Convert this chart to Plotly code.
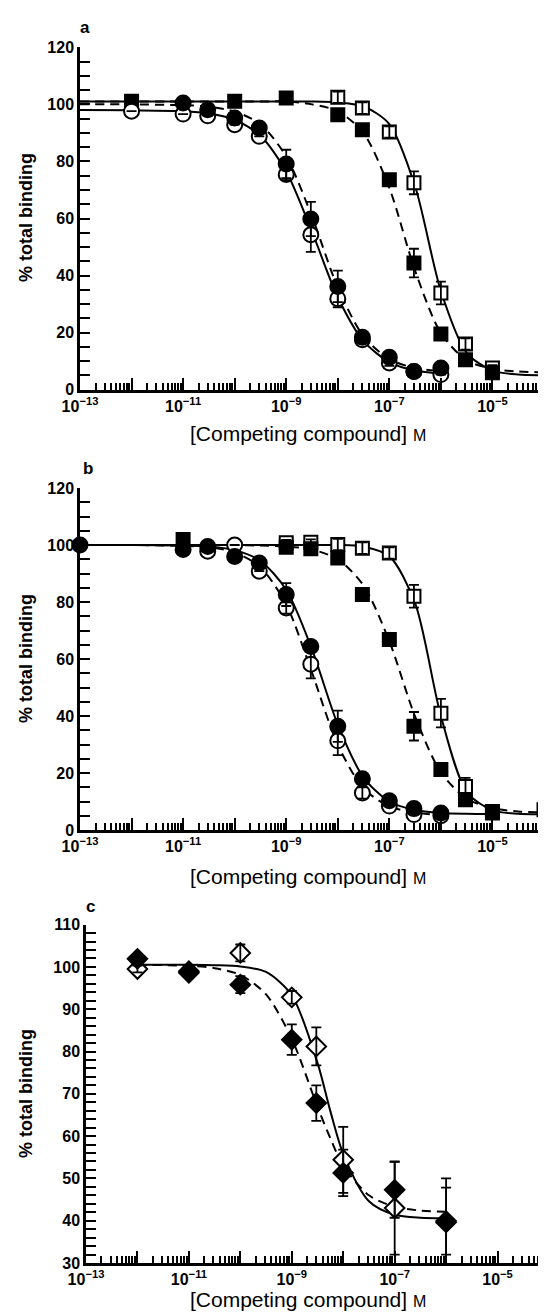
import plotly.graph_objects as go

# ---------------- data ----------------
# Panel a
a_oc_x = [1e-12, 1e-11, 3e-11, 1e-10, 3e-10, 1e-9, 3e-9, 1e-8, 3e-8, 1e-7, 3e-7, 1e-6]
a_oc_y = [97.6, 96.6, 96.0, 92.9, 88.8, 75.4, 54.3, 31.9, 17.5, 9.4, 6.4, 5.3]
a_oc_e = [0, 0, 0, 0, 0, 2, 6, 3, 1, 1, 0, 0]
a_fc_x = [1e-11, 3e-11, 1e-10, 3e-10, 1e-9, 3e-9, 1e-8, 3e-8, 1e-7, 3e-7, 1e-6]
a_fc_y = [100.5, 98.1, 95.2, 91.7, 79.1, 59.8, 36.2, 18.4, 11.4, 6.4, 7.6]
a_fc_e = [0, 0, 0, 0, 5, 6, 5.5, 0, 0, 0, 0]
a_os_x = [1e-8, 3e-8, 1e-7, 3e-7, 1e-6, 3e-6, 1e-5]
a_os_y = [102.5, 98.7, 90.3, 72.5, 33.9, 16.0, 7.6]
a_os_e = [2, 2, 2, 4, 4, 2, 1]
a_fs_x = [1e-12, 1e-10, 1e-9, 1e-8, 3e-8, 1e-7, 3e-7, 1e-6, 3e-6, 1e-5, 1e-4]
a_fs_y = [101.1, 101.1, 102.2, 96.4, 91.1, 73.6, 44.4, 19.5, 10.5, 5.9, 6.4]
a_fs_e = [0, 0, 0, 0, 0, 2, 5, 0, 0, 0, 0]

# fitted curves of panel a (log10 concentration knots, % binding)
a_curve_lx = [-13, -12, -11, -10.5, -10, -9.5, -9, -8.5, -8, -7.5, -7, -6.5, -6, -5.5, -5, -4.5, -4]
a_oc_fit = [98.0, 97.9, 97.6, 96.8, 94.6, 89.0, 76.5, 55.4, 32.4, 17.0, 9.7, 6.7, 5.6]
a_fc_fit = [100.0, 100.0, 99.7, 99.2, 97.5, 93.0, 81.7, 60.7, 35.8, 18.7, 10.7, 7.6, 6.6]
a_os_fit = [101.0, 101.0, 101.0, 101.0, 101.0, 101.0, 101.0, 101.0, 100.7, 99.3, 93.1, 71.3, 34.6, 12.9, 6.7, 5.3, 5.1]
a_fs_fit = [101.0, 101.0, 101.0, 101.0, 101.0, 101.0, 101.0, 100.0, 97.6, 89.9, 70.7, 41.7, 19.8, 10.3, 7.3, 6.4, 6.1]

# Panel b
b_oc_x = [3e-11, 1e-10, 3e-10, 1e-9, 3e-9, 1e-8, 3e-8, 1e-7, 3e-7, 1e-6]
b_oc_y = [97.8, 100.0, 90.8, 77.9, 58.2, 31.3, 13.0, 8.4, 5.4, 5.0]
b_oc_e = [0, 0, 0, 2, 5, 5, 2, 0, 0, 0]
b_fc_x = [1e-13, 1e-11, 3e-11, 1e-10, 3e-10, 1e-9, 3e-9, 1e-8, 3e-8, 1e-7, 3e-7, 1e-6]
b_fc_y = [100.0, 98.4, 99.5, 96.0, 93.7, 82.6, 64.4, 36.4, 18.0, 10.3, 7.5, 6.0]
b_fc_e = [0, 0, 0, 0, 0, 4, 0, 5.5, 0, 0, 0, 0]
b_os_x = [1e-9, 3e-9, 1e-8, 3e-8, 1e-7, 3e-7, 1e-6, 3e-6, 1e-5]
b_os_y = [100.8, 101.0, 100.2, 98.9, 97.2, 82.0, 41.0, 15.3, 6.0]
b_os_e = [1, 1, 2, 2, 2, 4, 5, 3, 0]
b_fs_x = [1e-11, 1e-9, 3e-9, 1e-8, 3e-8, 1e-7, 3e-7, 1e-6, 3e-6, 1e-5, 1e-4]
b_fs_y = [101.9, 99.2, 98.7, 95.4, 82.6, 66.8, 36.4, 21.2, 10.6, 6.5, 7.1]
b_fs_e = [0, 0, 0, 0, 2, 2, 5, 0, 0, 0, 0]

b_curve_lx = [-13, -12, -11, -10.5, -10, -9.5, -9, -8.5, -8, -7.5, -7, -6.5, -6, -5.5, -5, -4.5, -4]
b_oc_fit = [100.0, 100.0, 99.7, 99.2, 97.4, 92.2, 79.1, 55.2, 29.9, 14.6, 8.3, 6.1, 5.3]
b_fc_fit = [100.0, 100.0, 99.8, 99.4, 98.2, 94.4, 84.3, 63.4, 37.0, 18.4, 10.0, 7.0, 6.0, 5.7, 5.6]
b_os_fit = [100.0, 100.0, 100.0, 100.0, 100.0, 100.0, 100.0, 100.0, 100.0, 99.4, 96.1, 79.6, 40.0, 13.4, 6.9, 5.7, 5.5]
b_fs_fit = [100.0, 100.0, 100.0, 100.0, 100.0, 99.8, 99.5, 98.4, 95.0, 85.8, 66.2, 39.8, 20.2, 11.0, 7.7, 6.5, 6.2]

# Panel c
c_od_x = [1e-12, 1e-11, 1e-10, 1e-9, 3e-9, 1e-8, 1e-7, 1e-6]
c_od_y = [99.5, 99.0, 103.3, 92.8, 81.2, 54.4, 43.0, 39.9]
c_od_e = [0.8, 0.8, 2, 1.5, 4.5, 7.8, 11, 7.9]
c_fd_x = [1e-12, 1e-11, 1e-10, 1e-9, 3e-9, 1e-8, 1e-7, 1e-6]
c_fd_y = [101.9, 98.6, 95.8, 82.8, 67.8, 51.3, 47.3, 39.6]
c_fd_e = [0.8, 0.8, 2, 3.6, 4.2, 5.5, 6.6, 10.4]

c_curve_lx = [-12, -11, -10.5, -10, -9.5, -9, -8.5, -8.25, -8, -7.5, -7, -6.5, -6]
c_od_fit = [100.5, 100.5, 100.4, 100.1, 98.8, 93.3, 77.3, 65.9, 55.8, 44.6, 41.4, 40.7, 40.6]
c_fd_fit = [100.5, 100.25, 99.7, 98.1, 93.5, 83.0, 66.9, 59.5, 53.0, 46.0, 43.3, 42.4, 42.1]

decade_exps = list(range(-13, -3))
label_exps = [-13, -11, -9, -7, -5]
minor_mults = [2, 3, 4, 5, 6, 7, 8, 9]

# ---------------- figure ----------------
W, H = 546, 1312
fig = go.Figure()

FONT = "Liberation Sans, Arial, sans-serif"
DASH = "9px,6px"


def px_x(p):
    return p / W


def px_y(p):
    return 1 - p / H


def add_curve(lx, vals, ax, dash):
    xs = [10 ** v for v in lx[:len(vals)]]
    fig.add_trace(go.Scatter(x=xs, y=vals, mode="lines", xaxis=ax[0], yaxis=ax[1],
                             line=dict(color="black", width=2, dash=dash, shape="spline", smoothing=0.8),
                             showlegend=False, hoverinfo="skip"))


def add_markers(xs, ys, ax, symbol, filled, size):
    fig.add_trace(go.Scatter(x=xs, y=ys, mode="markers", xaxis=ax[0], yaxis=ax[1], cliponaxis=False,
                             marker=dict(symbol=symbol, size=size,
                                         color="black" if filled else "white",
                                         line=dict(color="black", width=2)),
                             showlegend=False))


def add_err(xs, ys, es, ax):
    fig.add_trace(go.Scatter(x=xs, y=ys, mode="markers", xaxis=ax[0], yaxis=ax[1], cliponaxis=False,
                             marker=dict(size=1, color="rgba(0,0,0,0)"),
                             error_y=dict(type="data", array=es, visible=True, color="black",
                                          thickness=1.8, width=5),
                             showlegend=False, hoverinfo="skip"))


A = ("x", "y")
B = ("x2", "y2")
C = ("x3", "y3")

# panel a
add_curve(a_curve_lx, a_oc_fit, A, "solid")
add_curve(a_curve_lx, a_fc_fit, A, DASH)
add_curve(a_curve_lx, a_os_fit, A, "solid")
add_curve(a_curve_lx, a_fs_fit, A, DASH)
add_markers(a_os_x, a_os_y, A, "square", False, 13)
add_markers(a_fs_x, a_fs_y, A, "square", True, 13)
add_markers(a_oc_x, a_oc_y, A, "circle", False, 15)
add_markers(a_fc_x, a_fc_y, A, "circle", True, 15)
for xs, ys, es in [(a_oc_x, a_oc_y, a_oc_e), (a_fc_x, a_fc_y, a_fc_e),
                   (a_os_x, a_os_y, a_os_e), (a_fs_x, a_fs_y, a_fs_e)]:
    add_err(xs, ys, es, A)

# panel b
add_curve(b_curve_lx, b_oc_fit, B, DASH)
add_curve(b_curve_lx, b_fc_fit, B, "solid")
add_curve(b_curve_lx, b_os_fit, B, "solid")
add_curve(b_curve_lx, b_fs_fit, B, DASH)
add_markers(b_os_x, b_os_y, B, "square", False, 13)
add_markers(b_fs_x, b_fs_y, B, "square", True, 13)
add_markers(b_oc_x, b_oc_y, B, "circle", False, 15)
add_markers(b_fc_x, b_fc_y, B, "circle", True, 15)
for xs, ys, es in [(b_oc_x, b_oc_y, b_oc_e), (b_fc_x, b_fc_y, b_fc_e),
                   (b_os_x, b_os_y, b_os_e), (b_fs_x, b_fs_y, b_fs_e)]:
    add_err(xs, ys, es, B)

# panel c
add_curve(c_curve_lx, c_od_fit, C, "solid")
add_curve(c_curve_lx, c_fd_fit, C, DASH)
add_markers(c_od_x, c_od_y, C, "diamond", False, 15)
add_markers(c_fd_x, c_fd_y, C, "diamond", True, 15)
add_err(c_od_x, c_od_y, c_od_e, C)
add_err(c_fd_x, c_fd_y, c_fd_e, C)

label_vals = [10.0 ** e for e in label_exps]
label_text = ["10<sup>\u2212%d</sup>" % (-e) for e in label_exps]
plain_decades = [10.0 ** e for e in decade_exps if e not in label_exps]
minor_vals = [m * 10.0 ** e for e in decade_exps[:-1] for m in minor_mults]


def xaxis_cfg(p0, p1, r1, anchor):
    return dict(type="log", domain=[px_x(p0), px_x(p1)], range=[-13, r1], anchor=anchor,
                automargin=False,
                showline=True, linewidth=2.5, linecolor="black", mirror=False,
                ticks="inside", ticklen=12, tickwidth=2, tickcolor="black",
                tickmode="array", tickvals=label_vals, ticktext=label_text,
                tickfont=dict(family=FONT, size=16, color="black", weight="bold"),
                showgrid=False, zeroline=False,
                minor=dict(ticks="inside", ticklen=7, tickwidth=1.5, tickcolor="black",
                           tickmode="array", tickvals=minor_vals, showgrid=False))


def xaxis_overlay(base, r1, anchor):
    # unlabeled decade ticks drawn on a twin axis
    return dict(type="log", overlaying=base, range=[-13, r1], anchor=anchor, side="bottom",
                automargin=False, showline=False, showticklabels=False,
                ticks="inside", ticklen=12, tickwidth=2, tickcolor="black",
                tickmode="array", tickvals=plain_decades,
                showgrid=False, zeroline=False)


def yaxis_cfg(top_px, bot_px, rng, dtick, mdtick, anchor):
    return dict(domain=[px_y(bot_px), px_y(top_px)], range=rng, anchor=anchor,
                automargin=False,
                showline=True, linewidth=2.5, linecolor="black",
                ticks="inside", ticklen=10, tickwidth=2, tickcolor="black",
                tick0=rng[0], dtick=dtick,
                tickfont=dict(family=FONT, size=16, color="black", weight="bold"),
                showgrid=False, zeroline=False,
                minor=dict(ticks="inside", ticklen=10, tickwidth=2, tickcolor="black",
                           dtick=mdtick, tick0=rng[0], showgrid=False))


rb = -4 + 10 / 51.6
fig.update_layout(
    template="none",
    width=W, height=H, margin=dict(l=0, r=0, t=0, b=0, pad=0, autoexpand=False),
    paper_bgcolor="white", plot_bgcolor="white", showlegend=False,
    xaxis=xaxis_cfg(72, 536, -4, "y"),
    yaxis=yaxis_cfg(39.3, 381.7, [0, 120], 20, 5, "x"),
    xaxis2=xaxis_cfg(72, 546, rb, "y2"),
    yaxis2=yaxis_cfg(480, 822, [0, 120], 20, 5, "x2"),
    xaxis3=xaxis_cfg(78, 541, -4, "y3"),
    yaxis3=yaxis_cfg(916.6, 1255, [30, 110], 10, 2, "x3"),
    xaxis4=xaxis_overlay("x", -4, "y"),
    xaxis5=xaxis_overlay("x2", rb, "y2"),
    xaxis6=xaxis_overlay("x3", -4, "y3"),
)

# invisible carriers so the twin axes are drawn
for ax, yax, r1 in [("x4", "y", -4), ("x5", "y2", rb), ("x6", "y3", -4)]:
    fig.add_trace(go.Scatter(x=[10.0 ** -13], y=[None], mode="markers", xaxis=ax, yaxis=yax,
                             marker=dict(size=1, color="rgba(0,0,0,0)"),
                             showlegend=False, hoverinfo="skip"))

ann = []
common = dict(xref="paper", yref="paper", showarrow=False, xanchor="center", yanchor="middle")
for letter, x, y in [("a", 77, 19), ("b", 80, 460), ("c", 82, 898)]:
    ann.append(dict(text="<b>%s</b>" % letter, x=px_x(x), y=px_y(y),
                    font=dict(family=FONT, size=17, color="black"), **common))
for y in [425, 868, 1291]:
    ann.append(dict(text="[Competing compound] <span style='font-size:16px'>M</span>",
                    x=px_x(300), y=px_y(y),
                    font=dict(family=FONT, size=21, color="black"), **common))
for y in [210, 651, 1086]:
    ann.append(dict(text="<b>% total binding</b>", x=px_x(18), y=px_y(y), textangle=-90,
                    font=dict(family=FONT, size=18, color="black"), **common))
fig.update_layout(annotations=ann)

fig.write_html("out.html")
